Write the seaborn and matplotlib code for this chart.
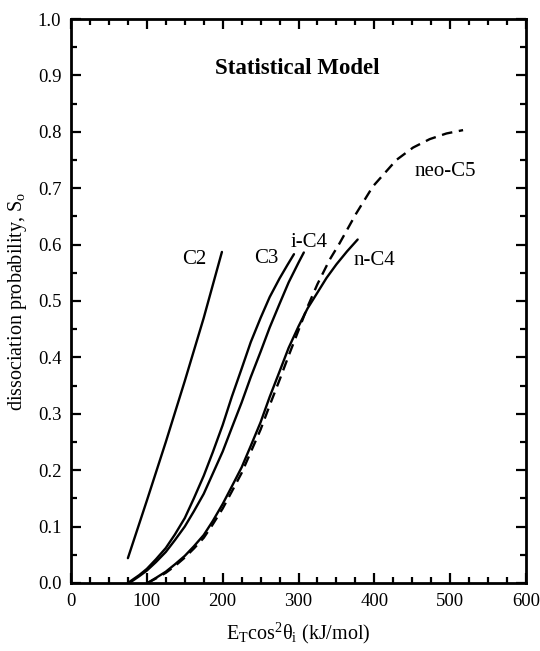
import matplotlib
matplotlib.use("Agg")
import matplotlib.pyplot as plt
import seaborn as sns
import pandas as pd
from matplotlib.ticker import MultipleLocator

# ---- data ----
c2_x = [75, 100, 125, 150, 175, 199]
c2_y = [0.044, 0.146, 0.250, 0.358, 0.470, 0.587]

c3_x = [75, 90, 100, 112, 125, 137, 150, 162, 175, 187, 200, 212, 225, 237, 250, 262, 275, 285, 294]
c3_y = [0.0, 0.014, 0.025, 0.042, 0.062, 0.086, 0.115, 0.150, 0.190, 0.232, 0.280, 0.330, 0.380, 0.427, 0.470, 0.507, 0.540, 0.563, 0.583]

ic4_x = [77, 90, 100, 112, 125, 137, 150, 162, 175, 187, 200, 212, 225, 237, 250, 262, 275, 287, 300, 307]
ic4_y = [0.0, 0.012, 0.022, 0.037, 0.055, 0.076, 0.100, 0.127, 0.158, 0.194, 0.233, 0.275, 0.320, 0.365, 0.410, 0.453, 0.495, 0.533, 0.568, 0.586]

nc4_x = [101, 112, 125, 137, 150, 162, 175, 187, 200, 212, 225, 237, 250, 262, 275, 287, 300, 312, 325, 337, 350, 364, 378]
nc4_y = [0.0, 0.009, 0.020, 0.033, 0.048, 0.065, 0.085, 0.110, 0.140, 0.171, 0.205, 0.243, 0.285, 0.330, 0.375, 0.417, 0.455, 0.487, 0.515, 0.541, 0.565, 0.588, 0.609]

neo_x = [101, 112, 125, 137, 150, 162, 175, 187, 200, 212, 225, 237, 250, 262, 275, 287, 300, 312, 325, 341, 354, 376, 398, 429, 451, 473, 495, 517]
neo_y = [0.0, 0.008, 0.018, 0.030, 0.045, 0.061, 0.080, 0.104, 0.132, 0.162, 0.195, 0.232, 0.272, 0.315, 0.360, 0.403, 0.448, 0.490, 0.530, 0.573, 0.602, 0.655, 0.703, 0.750, 0.772, 0.787, 0.797, 0.803]

labels = ["C2", "C3", "i-C4", "n-C4", "neo-C5"]
label_x = [162, 257, 314, 400, 493]
label_y = [0.573, 0.576, 0.603, 0.571, 0.729]

x_ticks = [0, 100, 200, 300, 400, 500, 600]
y_ticks = [0.0, 0.1, 0.2, 0.3, 0.4, 0.5, 0.6, 0.7, 0.8, 0.9, 1.0]

sns.set_theme(style="ticks")
plt.rcParams['font.family'] = ['Liberation Serif', 'DejaVu Serif']
plt.rcParams['mathtext.fontset'] = 'custom'
plt.rcParams['mathtext.rm'] = 'Liberation Serif'
plt.rcParams['mathtext.it'] = 'Liberation Serif:italic'
plt.rcParams['text.color'] = 'black'
plt.rcParams['axes.labelcolor'] = 'black'
plt.rcParams['xtick.color'] = 'black'
plt.rcParams['ytick.color'] = 'black'

fig = plt.figure(figsize=(5.4, 6.51), dpi=100)
ax = fig.add_axes([0.1315, 0.1045, 0.9741 - 0.1315, 0.9708 - 0.1045])

series = [(c2_x, c2_y, "C2"), (c3_x, c3_y, "C3"), (ic4_x, ic4_y, "i-C4"), (nc4_x, nc4_y, "n-C4")]
for xs, ys, name in series:
    df = pd.DataFrame({"x": xs, "y": ys})
    sns.lineplot(data=df, x="x", y="y", ax=ax, color="black", linewidth=1.7,
                 sort=False, estimator=None)

df_neo = pd.DataFrame({"x": neo_x, "y": neo_y})
sns.lineplot(data=df_neo, x="x", y="y", ax=ax, color="black", linewidth=1.7,
             sort=False, estimator=None, dashes=False, linestyle=(0, (4.5, 2.8)))

for t, lx, ly in zip(labels, label_x, label_y):
    ax.text(lx, ly, t, fontsize=15, ha="center", va="center", color="black")

ax.text(298, 0.913, "Statistical Model", fontsize=16.5, fontweight="bold",
        ha="center", va="center", color="black")

ax.set_xlim(0, 600)
ax.set_ylim(0, 1.0)
ax.set_xticks(x_ticks)
ax.set_yticks(y_ticks)
ax.set_xticklabels([str(v) for v in x_ticks])
ax.set_yticklabels([f"{v:.1f}" for v in y_ticks])
ax.xaxis.set_minor_locator(MultipleLocator(25))
ax.yaxis.set_minor_locator(MultipleLocator(0.05))

ax.tick_params(which="both", direction="in", top=True, right=True, width=1.6,
               colors="black", labelsize=13.5, pad=7)
ax.tick_params(which="major", length=7)
ax.tick_params(which="minor", length=4)
for s in ax.spines.values():
    s.set_linewidth(2.0)
    s.set_color("black")

ax.set_xlabel(r"E$_\mathrm{T}$cos$^2$θ$_\mathrm{i}$ (kJ/mol)", fontsize=14.5, labelpad=8)
ax.set_ylabel(r"dissociation probability, S$_\mathrm{o}$", fontsize=14.5, labelpad=6)

fig.savefig("out.png", dpi=100, facecolor="white")
